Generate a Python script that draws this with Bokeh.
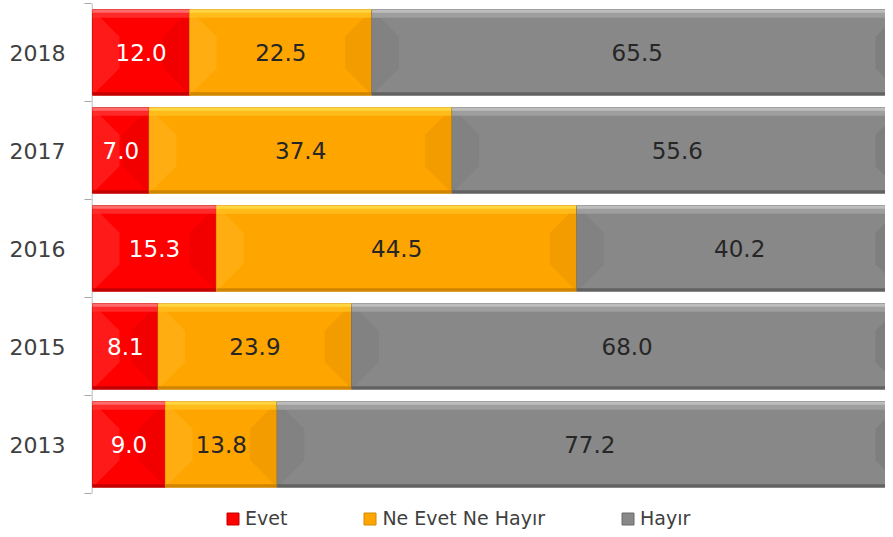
from bokeh.plotting import figure
from bokeh.models import Range1d, FixedTicker, Legend, LegendItem, ColumnDataSource
from bokeh.core.properties import value
from bokeh.embed import file_html
from bokeh.resources import INLINE

# ---- data ----
years = ["2013", "2015", "2016", "2017", "2018"]
evet = [9.0, 8.1, 15.3, 7.0, 12.0]
ne_evet_ne_hayir = [13.8, 23.9, 44.5, 37.4, 22.5]
hayir = [77.2, 68.0, 40.2, 55.6, 65.5]
series_names = ["Evet", "Ne Evet Ne Hayır", "Hayır"]

# ---- styles ----
FONT = "DejaVu Sans"
styles = [
    dict(body="#FF0000", left="#FF1A1A", right="#F20000", top1="#FF6A6A", top2="#FF3030",
         bottom="#C40000", edge="#C00000", text="#FFFFFF"),
    dict(body="#FFA500", left="#FFAD10", right="#F39C00", top1="#FFD640", top2="#FFBE1E",
         bottom="#D08400", edge="#D08A00", text="#262626"),
    dict(body="#888888", left="#828282", right="#7E7E7E", top1="#BDBDBD", top2="#A2A2A2",
         bottom="#626262", edge="#6A6A6A", text="#262626"),
]

W, H = 885, 529
BORDER_L = 91
frame_w = W - BORDER_L
PX_X = 8.1
PX_Y = 98.0
x_start = -1 / PX_X
x_end = x_start + frame_w / PX_X
y_end = 4.5 + 3 / PX_Y
y_start = y_end - H / PX_Y

p = figure(width=W, height=H,
           x_range=Range1d(x_start, x_end), y_range=Range1d(y_start, y_end),
           output_backend="svg", toolbar_location=None,
           min_border_left=BORDER_L, min_border_right=0,
           min_border_top=0, min_border_bottom=0)
p.outline_line_color = None
p.xgrid.visible = False
p.ygrid.visible = False
p.xaxis.visible = False
p.background_fill_color = "white"
p.border_fill_color = "white"

pos = list(range(len(years)))
BAR_H = 0.87
half = BAR_H / 2

# axis line drawn only over the category bands
p.segment(x0=[x_start + 0.5 / PX_X], y0=[-0.5], x1=[x_start + 0.5 / PX_X], y1=[len(years) - 0.5],
          line_color="#A6A6A6", line_width=1)

series = [evet, ne_evet_ne_hayir, hayir]
lefts = [0.0] * len(years)
body_renderers = []
d_x = 27 / PX_X
d_y = 27 / PX_Y
t1 = 3 / PX_Y
t2 = 8 / PX_Y
bt = 3 / PX_Y

for vals, st, name in zip(series, styles, series_names):
    L = lefts[:]
    R = [l + v for l, v in zip(L, vals)]
    src = ColumnDataSource(dict(y=pos, left=L, right=R))
    r = p.hbar(y="y", left="left", right="right", height=BAR_H, source=src,
               fill_color=st["body"], line_color=st["edge"], line_width=1)
    body_renderers.append(r)

    lx, ly, rx, ry = [], [], [], []
    for yc, l, rr in zip(pos, L, R):
        T, B = yc + half, yc - half
        lx.append([l, l + d_x, l + d_x, l]); ly.append([T, T - d_y, B + d_y, B])
        rx.append([rr, rr - d_x, rr - d_x, rr]); ry.append([T, T - d_y, B + d_y, B])
    p.patches(lx, ly, fill_color=st["left"], line_color=None)
    p.patches(rx, ry, fill_color=st["right"], line_color=None)
    # top gloss bands and bottom shade
    p.quad(left=L, right=R, top=[y + half for y in pos], bottom=[y + half - t2 for y in pos],
           fill_color=st["top2"], line_color=None, fill_alpha=0.85)
    p.quad(left=L, right=R, top=[y + half for y in pos], bottom=[y + half - t1 for y in pos],
           fill_color=st["top1"], line_color=None)
    p.quad(left=L, right=R, top=[y - half + bt for y in pos], bottom=[y - half for y in pos],
           fill_color=st["bottom"], line_color=None)
    # separator edge
    p.segment(x0=R, y0=[y - half for y in pos], x1=R, y1=[y + half for y in pos],
              line_color=st["edge"], line_width=1)

    centers = [l + v / 2 for l, v in zip(L, vals)]
    labels = [f"{v:.1f}" for v in vals]
    p.text(x=centers, y=pos, text=labels, text_align="center", text_baseline="middle",
           text_font=value(FONT), text_font_size="23px", text_color=st["text"])
    lefts = R

# ---- y axis ----
yax = p.yaxis[0]
yax.ticker = FixedTicker(ticks=pos, minor_ticks=[i - 0.5 for i in range(len(years) + 1)])
yax.major_label_overrides = {i: y for i, y in zip(pos, years)}
yax.major_tick_out = 0
yax.major_tick_in = 0
yax.minor_tick_out = 7
yax.minor_tick_in = 0
yax.minor_tick_line_color = "#A6A6A6"
yax.axis_line_color = None
yax.major_label_standoff = 19
yax.major_label_text_font = FONT
yax.major_label_text_font_size = "22px"
yax.major_label_text_color = "#404040"

# ---- legend ----
legend = Legend(items=[LegendItem(label=n, renderers=[r]) for n, r in zip(series_names, body_renderers)],
                orientation="horizontal", location=(134, 0),
                glyph_width=15, glyph_height=15, label_standoff=5, spacing=75,
                padding=0, margin=0, border_line_color=None, background_fill_alpha=0,
                label_text_font=FONT, label_text_font_size="19px", label_text_color="#404040",
                label_height=20)
p.add_layout(legend, "center")

open("out.html", "w").write(file_html(p, INLINE))
